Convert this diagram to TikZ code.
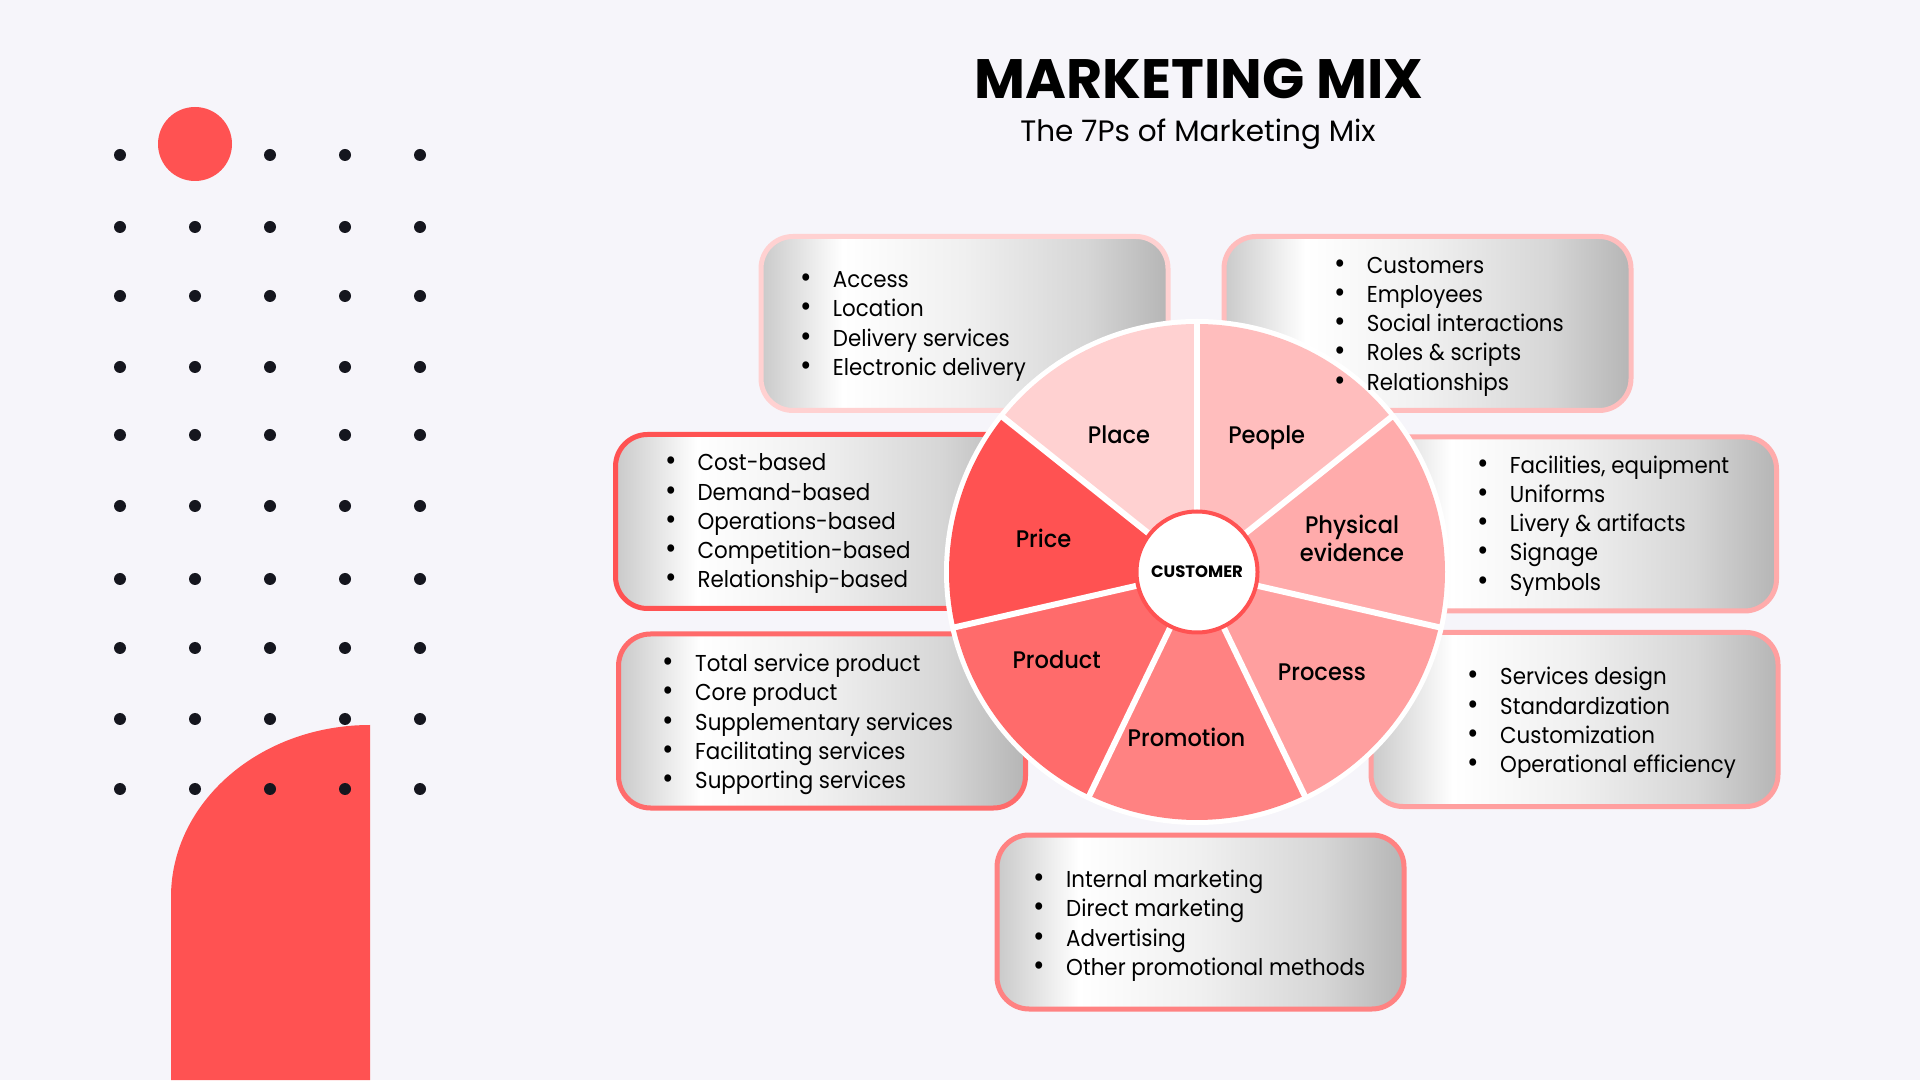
\documentclass[tikz,border=0pt]{standalone}
\usepackage{graphicx}
\usepackage{fontspec}
\setmainfont{Poppins}
\newfontfamily\bodyfont{Poppins}[FakeStretch=0.93]
\IfFontExistsTF{Poppins Medium}{\newfontfamily\lblfont{Poppins Medium}[FakeStretch=0.94]}{\newcommand{\lblfont}{\bfseries}}
\usetikzlibrary{calc}

\definecolor{bgc}{HTML}{F6F5FA}
\definecolor{redm}{HTML}{FF5252}
\definecolor{dotc}{HTML}{15161E}
\definecolor{cPlace}{HTML}{FFD1D1}
\definecolor{cPrice}{HTML}{FF5252}
\definecolor{cProduct}{HTML}{FF6B6B}
\definecolor{cPromotion}{HTML}{FF8282}
\definecolor{cProcess}{HTML}{FF9F9F}
\definecolor{cPhysical}{HTML}{FFABAB}
\definecolor{cPeople}{HTML}{FFBDBD}

\pgfdeclarehorizontalshading{boxgrad}{100bp}{rgb(0bp)=(0.79,0.79,0.79); rgb(25bp)=(0.79,0.79,0.79); rgb(35bp)=(1,1,1); rgb(50bp)=(0.94,0.94,0.94); rgb(65bp)=(0.84,0.84,0.84); rgb(75bp)=(0.71,0.71,0.71); rgb(100bp)=(0.71,0.71,0.71)}

\newcommand{\bl}[1]{\hbox{\hbox to 0pt{\hss\scalebox{1.3}{\textbullet}\hss}\hskip 26.7pt #1}}
\newcommand{\blist}[1]{\vtop{\baselineskip=29.2pt #1}}

\tikzset{
  infobox/.style={rectangle, rounded corners=32pt, line width=5pt, shading=boxgrad,
    minimum width=407pt, minimum height=174pt, inner sep=0pt},
  listtxt/.style={anchor=base west, inner sep=0pt, font=\bodyfont\fontsize{23}{29.2}\selectfont},
  slicelbl/.style={anchor=base, inner sep=0pt, font=\lblfont\fontsize{24}{28.4}\selectfont},
  dotsty/.style={fill=dotc}
}

\begin{document}
\begin{tikzpicture}[x=1pt,y=1pt]
\useasboundingbox (0,0) rectangle (1920,1080);
\fill[bgc] (0,0) rectangle (1920,1080);

% decorations
\fill[redm] (171,0) -- (171,183) arc[start angle=180, end angle=90, x radius=199, y radius=172] -- (370,0) -- cycle;
\fill[redm] (195,936) circle (37);
\foreach \yy in {925,853,784,713,645,574,501,432,361,291}{
  \foreach \xx in {120,195,270,345,420}{
    \ifnum\yy=925 \ifnum\xx=195 \else \fill[dotsty] (\xx,\yy) circle (6); \fi
    \else \fill[dotsty] (\xx,\yy) circle (6); \fi
  }
}

% title
\node[anchor=base, inner sep=0pt, font=\fontsize{55.5}{62}\selectfont\bfseries] (title) at (1199,981) {MARKETING MIX};
\node[anchor=base, inner sep=0pt, font=\fontsize{29.5}{34}\selectfont] (subtitle) at (1198,938.3) {The 7Ps of Marketing Mix};

% boxes
\node[infobox, draw=cPlace] (bPlace) at (964.5,756.5) {};
\node[infobox, draw=cPeople] (bPeople) at (1427.5,756.5) {};
\node[infobox, draw=cPrice] (bPrice) at (819,558.5) {};
\node[infobox, draw=cPhysical] (bPhysical) at (1573,556) {};
\node[infobox, draw=cProduct] (bProduct) at (822,359) {};
\node[infobox, draw=cProcess] (bProcess) at (1574.5,360.5) {};
\node[infobox, draw=cPromotion] (bPromotion) at (1200.5,158) {};

% pie
\coordinate (C) at (1197,508);
\fill[white] (C) circle (253);
\fill[cPlace]     (C) -- +(90:248)     arc[start angle=90,     end angle=141.43, radius=248] -- cycle;
\fill[cPrice]     (C) -- +(141.43:248) arc[start angle=141.43, end angle=192.86, radius=248] -- cycle;
\fill[cProduct]   (C) -- +(192.86:248) arc[start angle=192.86, end angle=244.29, radius=248] -- cycle;
\fill[cPromotion] (C) -- +(244.29:248) arc[start angle=244.29, end angle=295.71, radius=248] -- cycle;
\fill[cProcess]   (C) -- +(295.71:248) arc[start angle=295.71, end angle=347.14, radius=248] -- cycle;
\fill[cPhysical]  (C) -- +(347.14:248) arc[start angle=347.14, end angle=398.57, radius=248] -- cycle;
\fill[cPeople]    (C) -- +(38.57:248)  arc[start angle=38.57,  end angle=90,     radius=248] -- cycle;
\foreach \a in {90,141.43,192.86,244.29,295.71,347.14,38.57}{
  \draw[white, line width=6pt] (C) -- +(\a:249);
}
\node[circle, fill=white, draw=redm, line width=4pt, minimum size=121pt, inner sep=0pt] (cust) at (C) {};
\node[anchor=base, inner sep=0pt, font=\fontsize{16.5}{19}\selectfont\bfseries] (custlbl) at (1197,502.7) {CUSTOMER};

% slice labels
\node[slicelbl] (lPlace) at (1119,636) {Place};
\node[slicelbl] (lPeople) at (1266.7,636) {People};
\node[slicelbl] (lPrice) at (1043.5,532.7) {Price};
\node[slicelbl] (lPhysical) at (1352,546.7) {\vtop{\baselineskip=28.4pt\halign{\hfil#\hfil\cr Physical\cr evidence\cr}}};
\node[slicelbl] (lProcess) at (1322,399) {Process};
\node[slicelbl] (lPromotion) at (1186.5,333.3) {Promotion};
\node[slicelbl] (lProduct) at (1056.7,411) {Product};

% lists
\node[listtxt] (tPlace) at (806,792.3) {\blist{\bl{Access}\bl{Location}\bl{Delivery services}\bl{Electronic delivery}}};
\node[listtxt] (tPeople) at (1340,806.7) {\blist{\bl{Customers}\bl{Employees}\bl{Social interactions}\bl{Roles \& scripts}\bl{Relationships}}};
\node[listtxt] (tPrice) at (670.7,609) {\blist{\bl{Cost-based}\bl{Demand-based}\bl{Operations-based}\bl{Competition-based}\bl{Relationship-based}}};
\node[listtxt] (tPhysical) at (1483,606.7) {\blist{\bl{Facilities, equipment}\bl{Uniforms}\bl{Livery \& artifacts}\bl{Signage}\bl{Symbols}}};
\node[listtxt] (tProduct) at (668.3,408.3) {\blist{\bl{Total service product}\bl{Core product}\bl{Supplementary services}\bl{Facilitating services}\bl{Supporting services}}};
\node[listtxt] (tProcess) at (1473.3,395) {\blist{\bl{Services design}\bl{Standardization}\bl{Customization}\bl{Operational efficiency}}};
\node[listtxt] (tPromotion) at (1039.3,192.3) {\blist{\bl{Internal marketing}\bl{Direct marketing}\bl{Advertising}\bl{Other promotional methods}}};
\end{tikzpicture}
\end{document}
